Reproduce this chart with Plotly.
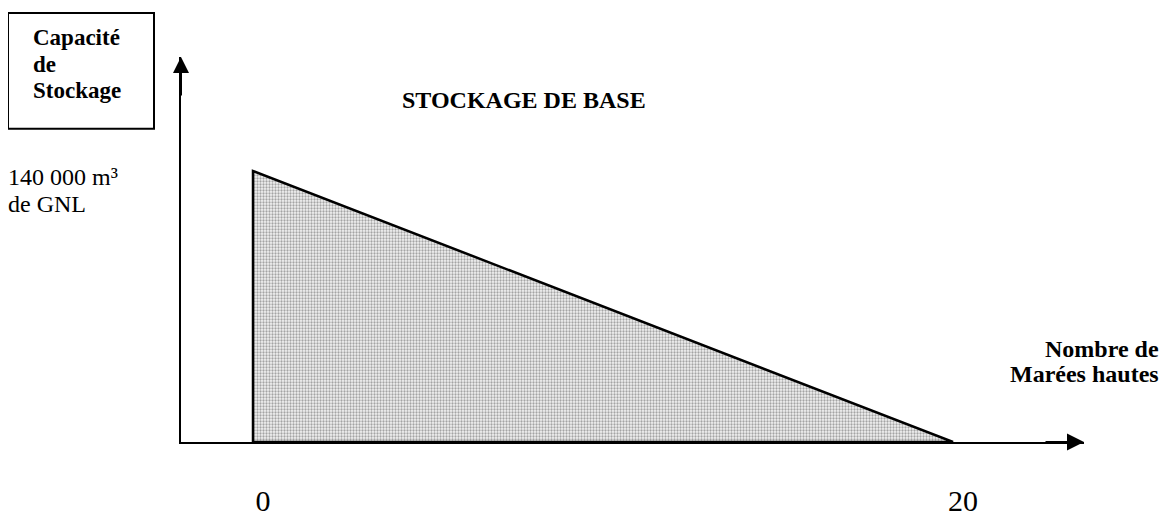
import plotly.graph_objects as go

# ---- data ----
x_values = [0, 0, 20, 0]          # Nombre de marées hautes
y_values = [0, 140000, 0, 0]      # Capacité de stockage (m³ de GNL)
x_tick_vals = [0, 20]
x_tick_text = ["0", "20"]
title_text = "STOCKAGE DE BASE"
y_title_lines = ["Capacité", "de", "Stockage"]
y_value_lines = ["140 000 m³", "de GNL"]
x_title_lines = ["Nombre de", "Marées hautes"]

# page body has an 8px margin: draw in a figure that fills the rest of the window
OFF = 8
W, H = 1173 - OFF, 529 - OFF

# reference pixel geometry (window coordinates)
L, R, T, B = 181, 1084, 57, 459
X0_PX, X20_PX, Y140_PX = 253, 953, 176
px_per_x = (X20_PX - X0_PX) / 20.0
px_per_y = (B - Y140_PX) / 140000.0
x_range = [(L - X0_PX) / px_per_x, (R - X0_PX) / px_per_x]
y_range = [0, (B - T) / px_per_y]


def pxx(p):
    return (p - L) / (R - L)


def pxy(p):
    return (B - p) / (B - T)


SERIF = "Liberation Serif, Times New Roman, serif"

fig = go.Figure()
fig.add_trace(go.Scatter(
    x=x_values, y=y_values, mode="lines", fill="toself",
    line=dict(color="black", width=2.5),
    fillcolor="#e0e0e0",
    fillpattern=dict(shape=".", fgcolor="#555555", bgcolor="#f2f2f2",
                     size=3, solidity=0.45),
    hoverinfo="skip", showlegend=False,
))

fig.update_layout(
    width=W, height=H,
    margin=dict(l=L - OFF, r=(W + OFF) - R, t=T - OFF, b=(H + OFF) - B, pad=0),
    paper_bgcolor="white", plot_bgcolor="white",
    showlegend=False,
    font=dict(family=SERIF, color="black"),
    xaxis=dict(range=x_range, showgrid=False, zeroline=False,
               showline=True, linecolor="black", linewidth=2,
               tickvals=x_tick_vals, ticktext=x_tick_text, ticks="",
               tickfont=dict(family=SERIF, size=30, color="black"),
               ticklabelstandoff=31, ticklabelshift=10),
    yaxis=dict(range=y_range, showgrid=False, zeroline=False,
               showline=True, linecolor="black", linewidth=2,
               showticklabels=False, ticks=""),
)

# arrowheads of the axes
fig.add_annotation(xref="paper", yref="paper", x=0, y=1, ax=0, ay=40,
                   text="", showarrow=True, arrowhead=2, arrowsize=1.6,
                   arrowwidth=2, arrowcolor="black")
fig.add_annotation(xref="paper", yref="paper", x=1, y=0, ax=-40, ay=0,
                   text="", showarrow=True, arrowhead=2, arrowsize=1.7,
                   arrowwidth=2, arrowcolor="black")

# boxed y-axis title
fig.add_shape(type="rect", xref="paper", yref="paper",
              x0=pxx(8), x1=pxx(154), y0=pxy(132), y1=pxy(11),
              line=dict(color="black", width=2), fillcolor="white")


def text_lines(lines, x_px, first_y_px, step_px, size, bold, anchor="left"):
    for i, s in enumerate(lines):
        fig.add_annotation(xref="paper", yref="paper", x=pxx(x_px),
                           y=pxy(first_y_px + i * step_px),
                           xanchor=anchor, yanchor="middle",
                           text=("<b>%s</b>" % s) if bold else s,
                           showarrow=False, font=dict(family=SERIF, size=size))


text_lines(y_title_lines, 31, 37, 27.5, 23, True)
text_lines(y_value_lines, 6, 182, 28, 24, False)
text_lines([title_text], 524, 102, 0, 24, True, anchor="center")
text_lines(x_title_lines, 1161, 362, 26, 24, True, anchor="right")

fig.write_html("out.html")
